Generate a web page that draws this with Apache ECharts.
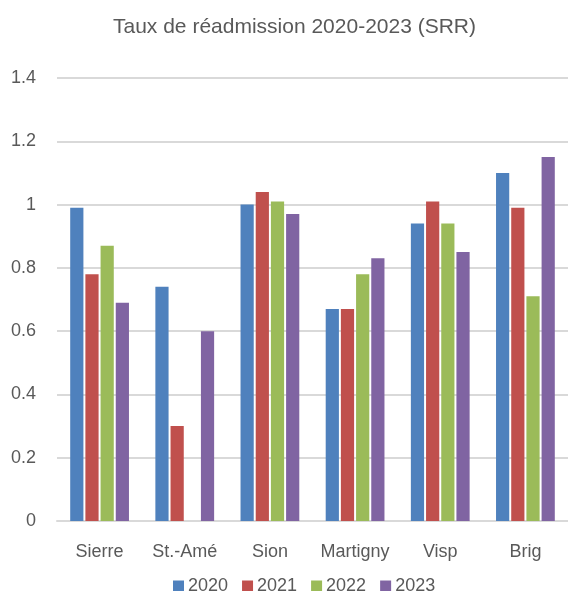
<!DOCTYPE html>
<html>
<head>
<meta charset="utf-8">
<script src="https://cdn.jsdelivr.net/npm/echarts@6/dist/echarts.min.js"></script>
<style>
  html, body { margin: 0; padding: 0; background: #fff; }
  #chart { width: 568px; height: 591px; }
</style>
</head>
<body>
<div id="chart"></div>
<script>
// hôpitaux
const sites = ['Sierre', 'St.-Amé', 'Sion', 'Martigny', 'Visp', 'Brig'];
const years = ['2020', '2021', '2022', '2023'];
const srr2020 = [0.99, 0.74, 1.00, 0.67, 0.94, 1.10];
const srr2021 = [0.78, 0.30, 1.04, 0.67, 1.01, 0.99];
const srr2022 = [0.87, 0, 1.01, 0.78, 0.94, 0.71];
const srr2023 = [0.69, 0.60, 0.97, 0.83, 0.85, 1.15];
const colors = ['#4F81BD', '#C0504D', '#9BBB59', '#8064A2'];

const font = 'Liberation Sans, Arial, sans-serif';
const grey = '#595959';

const chart = echarts.init(document.getElementById('chart'));

const series = [srr2020, srr2021, srr2022, srr2023].map((vals, i) => ({
  name: years[i],
  type: 'bar',
  data: vals,
  barGap: '15%',
  barCategoryGap: '31%',
  itemStyle: { color: colors[i] },
}));

chart.setOption({
  animation: false,
  color: colors,
  title: {
    text: 'Taux de réadmission 2020-2023 (SRR)',
    left: 108,
    top: 12,
    textStyle: { fontFamily: font, fontSize: 21, fontWeight: 'normal', color: grey },
  },
  grid: { left: 57, right: 0, top: 78, bottom: 70 },
  legend: {
    data: years,
    left: 168,
    top: 572,
    icon: 'rect',
    itemWidth: 11,
    itemHeight: 11,
    itemGap: 14,
    textStyle: { fontFamily: font, fontSize: 18, color: grey, padding: [0, 0, 0, -1] },
  },
  xAxis: {
    type: 'category',
    data: sites,
    axisTick: { show: false },
    axisLine: { lineStyle: { color: '#d9d9d9', width: 2 } },
    axisLabel: { fontFamily: font, fontSize: 18, color: grey, margin: 22, interval: 0 },
  },
  yAxis: {
    type: 'value',
    min: 0,
    max: 1.4,
    interval: 0.2,
    axisLine: { show: false },
    axisTick: { show: false },
    splitLine: { lineStyle: { color: '#d9d9d9', width: 2 } },
    axisLabel: { fontFamily: font, fontSize: 18, color: grey, margin: 21 },
  },
  series: series,
});
</script>
</body>
</html>
